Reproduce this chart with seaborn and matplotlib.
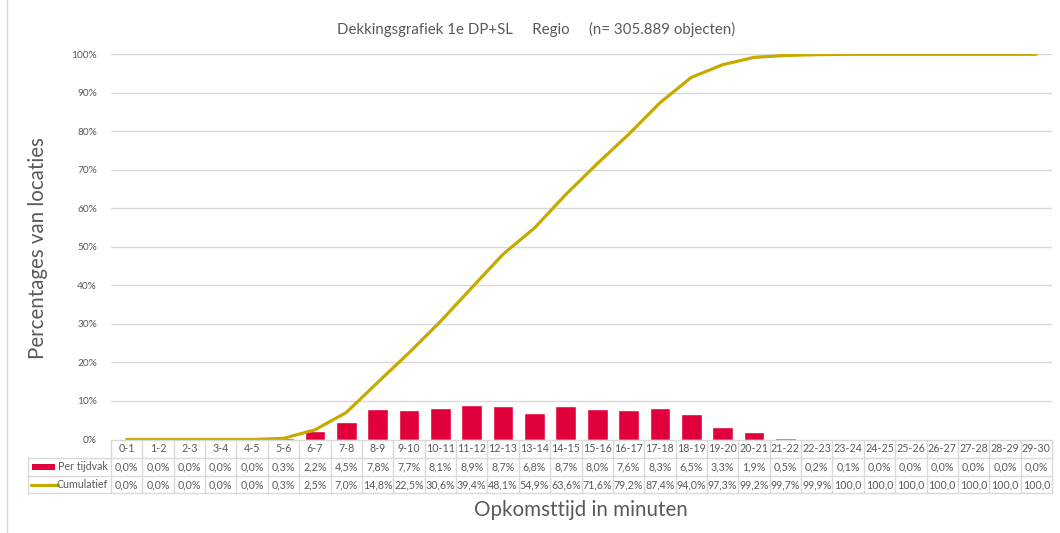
import numpy as np
import pandas as pd
import matplotlib
matplotlib.use("Agg")
import matplotlib.pyplot as plt
import matplotlib.transforms as mtransforms
from matplotlib.lines import Line2D
from matplotlib.patches import Rectangle
import seaborn as sns

# Response-time buckets (minutes)
tijdvakken = ["0-1", "1-2", "2-3", "3-4", "4-5", "5-6", "6-7", "7-8", "8-9", "9-10",
              "10-11", "11-12", "12-13", "13-14", "14-15", "15-16", "16-17", "17-18",
              "18-19", "19-20", "20-21", "21-22", "22-23", "23-24", "24-25", "25-26",
              "26-27", "27-28", "28-29", "29-30"]

# Share of locations reached per time bucket (%)
per_tijdvak = [0.0, 0.0, 0.0, 0.0, 0.0, 0.3, 2.2, 4.5, 7.8, 7.7,
               8.1, 8.9, 8.7, 6.8, 8.7, 8.0, 7.6, 8.3, 6.5, 3.3,
               1.9, 0.5, 0.2, 0.1, 0.0, 0.0, 0.0, 0.0, 0.0, 0.0]

# Cumulative share of locations reached (%)
cumulatief = [0.0, 0.0, 0.0, 0.0, 0.0, 0.3, 2.5, 7.0, 14.8, 22.5,
              30.6, 39.4, 48.1, 54.9, 63.6, 71.6, 79.2, 87.4, 94.0, 97.3,
              99.2, 99.7, 99.9, 100.0, 100.0, 100.0, 100.0, 100.0, 100.0, 100.0]

y_ticks = [0, 10, 20, 30, 40, 50, 60, 70, 80, 90, 100]

titel = "Dekkingsgrafiek 1e DP+SL     Regio     (n= 305.889 objecten)"

df = pd.DataFrame({"tijdvak": tijdvakken, "per": per_tijdvak, "cum": cumulatief})

RED = "#E2003C"
GOLD = "#C6AA00"
GRID = "#D9D9D9"
TXT = "#595959"

sns.set_theme(style="white")
plt.rcParams["font.family"] = ["Lato", "DejaVu Sans"]

W, H = 1060, 533
fig = plt.figure(figsize=(W / 100, H / 100), dpi=100)

def fx(px):
    return px / W

def fy(py):
    return 1 - py / H

ax_left, ax_right = 111, 1052
ax_top, ax_bot = 54.3, 439.5
ax = fig.add_axes([fx(ax_left), fy(ax_bot), fx(ax_right - ax_left), (ax_bot - ax_top) / H])

sns.barplot(data=df, x="tijdvak", y="per", color=RED, width=0.66, saturation=1,
            ax=ax, zorder=3)
sns.lineplot(x=np.arange(len(df)), y=df["cum"], color=GOLD, linewidth=2.3, ax=ax,
             zorder=4)

ax.set_xlim(-0.5, len(df) - 0.5)
ax.set_ylim(0, 100)
ax.set_yticks(y_ticks)
ax.set_yticklabels([f"{t}%" for t in y_ticks], fontsize=7.3, color=TXT)
ax.tick_params(axis="y", length=0, pad=10)
ax.set_xticks([])
ax.set_xlabel("")
ax.set_ylabel("")
for t in y_ticks[1:]:
    ax.axhline(t, color=GRID, linewidth=1, zorder=1)
for s in ax.spines.values():
    s.set_visible(False)

# Data table beneath the plot
tr = mtransforms.blended_transform_factory(ax.transData, fig.transFigure)
row_y = [440, 458, 476, 493]
leg_left = 28
n = len(df)
FS = 7.7

def fmt(v):
    s = f"{v:.1f}".replace(".", ",") + "%"
    return s[:5]

# horizontal rules
fig.add_artist(Line2D([fx(ax_left), fx(ax_right)], [fy(row_y[0])] * 2, color=GRID, lw=1))
for yy in row_y[1:]:
    fig.add_artist(Line2D([fx(leg_left), fx(ax_right)], [fy(yy)] * 2, color=GRID, lw=1))
# vertical rules
for i in range(n + 1):
    fig.add_artist(Line2D([i - 0.5, i - 0.5], [fy(row_y[0]), fy(row_y[3])],
                          color=GRID, lw=1, transform=tr))
fig.add_artist(Line2D([fx(leg_left)] * 2, [fy(row_y[1]), fy(row_y[3])], color=GRID, lw=1))

for i in range(n):
    fig.text(i, fy((row_y[0] + row_y[1]) / 2), df["tijdvak"][i], transform=tr,
             ha="center", va="center", fontsize=FS, color=TXT)
    fig.text(i, fy((row_y[1] + row_y[2]) / 2), fmt(df["per"][i]), transform=tr,
             ha="center", va="center", fontsize=FS, color=TXT)
    fig.text(i, fy((row_y[2] + row_y[3]) / 2), fmt(df["cum"][i]), transform=tr,
             ha="center", va="center", fontsize=FS, color=TXT)

# legend keys inside the table
fig.text(fx(108), fy((row_y[1] + row_y[2]) / 2), "Per tijdvak", ha="right", va="center",
         fontsize=FS, color=TXT)
fig.text(fx(108), fy((row_y[2] + row_y[3]) / 2), "Cumulatief", ha="right", va="center",
         fontsize=FS, color=TXT)
fig.add_artist(Rectangle((fx(32), fy(470)), fx(23), 6 / H, color=RED, lw=0))
fig.add_artist(Line2D([fx(31), fx(58)], [fy(484.5)] * 2, color=GOLD, lw=2.3))

# chart frame edge
fig.add_artist(Line2D([fx(6.5)] * 2, [0, 1], color=GRID, lw=1))

fig.text(fx(536), fy(29), titel, ha="center", va="center", fontsize=10.8, color=TXT)
fig.text(fx(38), fy(248), "Percentages van locaties", rotation=90, ha="center",
         va="center", fontsize=14.8, color=TXT)
fig.text(fx(581), fy(510), "Opkomsttijd in minuten", ha="center", va="center",
         fontsize=14.8, color=TXT)

fig.savefig("out.png", dpi=100, facecolor="white")
